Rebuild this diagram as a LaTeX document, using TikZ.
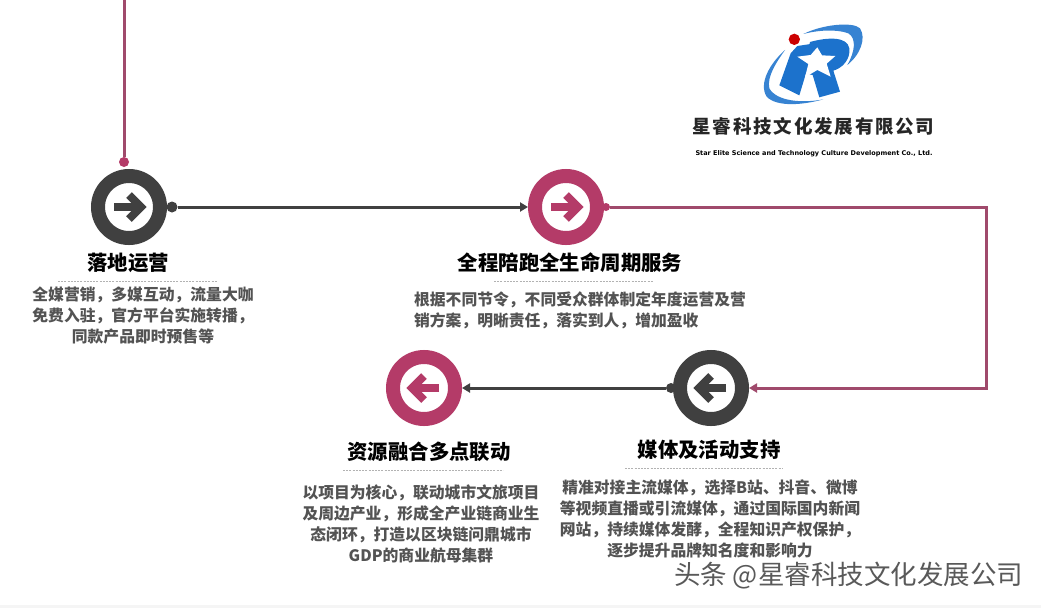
\documentclass[tikz,border=0pt]{standalone}
\usepackage{fontspec}
\setmainfont{Noto Sans CJK SC}
\newfontfamily\latinbold{DejaVu Sans}
\usetikzlibrary{arrows.meta}
\definecolor{rosec}{HTML}{B43B68}
\definecolor{rosel}{HTML}{A04A6C}
\definecolor{darkc}{HTML}{404040}
\definecolor{logob}{HTML}{1C72CC}
\tikzset{
  x=1pt,y=-1pt,
  ringnode/.style={circle,draw=#1,line width=14pt,minimum size=62pt,inner sep=0pt,outer sep=7pt,fill=white},
  glyph/.style={draw=#1,line width=8pt},
  ttl/.style={font=\fontsize{20.4}{20.4}\selectfont\bfseries,text=black,anchor=center,inner sep=0pt},
  body/.style={font=\fontsize{15.8}{21}\selectfont\bfseries,text=darkc!90,align=center,anchor=center,inner sep=0pt},
  rule/.style={draw=gray!60,line width=0.7pt,dash pattern=on 2pt off 1.2pt},
  dotc/.style={circle,fill=#1,inner sep=0pt,minimum size=10pt},
  link/.style={draw=#1,line width=3pt},
}
\begin{document}
\begin{tikzpicture}
\useasboundingbox (0,0) rectangle (1041,608);
\fill[white] (0,0) rectangle (1041,608);
\fill[black!4] (0,605) rectangle (1041,608);
% nodes
\node[ringnode=darkc] (a) at (129,207) {};
\node[ringnode=rosec] (b) at (566,207) {};
\node[ringnode=darkc] (c) at (711,388) {};
\node[ringnode=rosec] (d) at (424,388) {};
\coordinate (top) at (124,0);
\node[dotc=rosec,minimum size=10pt] (topdot) at (124,162) {};
\node[dotc=darkc,minimum size=11pt] (adot) at (172,207) {};
\node[dotc=rosec,minimum size=8pt] (bdot) at (606,207) {};
\node[dotc=darkc,minimum size=10pt] (cdot) at (671,388) {};
\coordinate (corner1) at (986,207);
\coordinate (corner2) at (986,388);
% connectors
\draw[link=rosel] (top) -- (topdot);
\draw[link=darkc,-{Triangle[length=8pt,width=9pt]}] (adot) -- (b);
\draw[link=rosel,-{Triangle[length=8pt,width=9pt]}] (bdot) -- (corner1) -- (corner2) -- (c);
\draw[link=darkc,-{Triangle[length=8pt,width=9pt]}] (cdot) -- (d);
% glyphs
\draw[glyph=darkc] ([xshift=-15pt]a.center) -- ([xshift=12pt]a.center);
\draw[glyph=darkc] ([shift={(0,-12)}]a.center) -- ([shift={(12,0)}]a.center) -- ([shift={(0,12)}]a.center);
\draw[glyph=rosec] ([xshift=-15pt]b.center) -- ([xshift=12pt]b.center);
\draw[glyph=rosec] ([shift={(0,-12)}]b.center) -- ([shift={(12,0)}]b.center) -- ([shift={(0,12)}]b.center);
\draw[glyph=darkc] ([xshift=15pt]c.center) -- ([xshift=-12pt]c.center);
\draw[glyph=darkc] ([shift={(0,-12)}]c.center) -- ([shift={(-12,0)}]c.center) -- ([shift={(0,12)}]c.center);
\draw[glyph=rosec] ([xshift=15pt]d.center) -- ([xshift=-12pt]d.center);
\draw[glyph=rosec] ([shift={(0,-12)}]d.center) -- ([shift={(-12,0)}]d.center) -- ([shift={(0,12)}]d.center);
% titles
\node[ttl] (ta) at (128,263) {落地运营};
\node[ttl] (tb) at (570,263) {全程陪跑全生命周期服务};
\node[ttl] (tc) at (709,450) {媒体及活动支持};
\node[ttl] (td) at (429,452) {资源融合多点联动};
% rules
\draw[rule] (58,281) -- (217,281);
\draw[rule] (494,281) -- (653,281);
\draw[rule] (625,468) -- (783,468);
\draw[rule] (343,470) -- (503,470);
% bodies
\node[body] (ba) at (143,316) {全媒营销，多媒互动，流量大咖\\免费入驻，官方平台实施转播，\\同款产品即时预售等};
\node[body,align=left] (bb) at (580,310) {根据不同节令，不同受众群体制定年度运营及营\\销方案，明晰责任，落实到人，增加盈收};
\node[body] (bc) at (710,519) {精准对接主流媒体，选择B站、抖音、微博\\等视频直播或引流媒体，通过国际国内新闻\\网站，持续媒体发酵，全程知识产权保护，\\逐步提升品牌知名度和影响力};
\node[body] (bd) at (421,524) {以项目为核心，联动城市文旅项目\\及周边产业，形成全产业链商业生\\态闭环，打造以区块链问鼎城市\\GDP的商业航母集群};
% logo
\begin{scope}[shift={(760,20)},x=0.3333pt,y=-0.3333pt]
  \fill[logob!88] (130,42) .. controls (190,12) and (280,5) .. (300,25) .. controls (320,55) and (300,105) .. (262,135) .. controls (285,95) and (290,55) .. (265,40) .. controls (230,27) and (175,30) .. (130,42) -- cycle;
  \fill[logob!88] (75,90) .. controls (30,130) and (-5,190) .. (20,230) .. controls (50,262) and (130,255) .. (190,238) .. controls (130,250) and (50,245) .. (28,205) .. controls (20,170) and (50,125) .. (75,90) -- cycle;
  \fill[logob] (112,78) -- (165,70) -- (118,226) -- (58,196) -- (92,100) -- cycle;
  \fill[logob] (150,66) .. controls (200,52) and (262,48) .. (268,85) .. controls (272,120) and (245,145) .. (220,152) -- (240,215) -- (178,232) -- (158,165) -- (130,160) -- cycle;
  \fill[white] (172,82) -- (186,106) -- (226,108) -- (200,131) -- (212,170) -- (172,150) -- (135,172) -- (145,132) -- (112,110) -- (152,105) -- cycle;
  \fill[white] (103,58) circle (21);
  \fill[red!80!black] (103,58) circle (17);
\end{scope}
\node[font=\fontsize{18.5}{18.5}\selectfont\bfseries,text=black!85,inner sep=0pt] (co) at (813.5,126) {星\hspace{1.8pt}睿\hspace{1.8pt}科\hspace{1.8pt}技\hspace{1.8pt}文\hspace{1.8pt}化\hspace{1.8pt}发\hspace{1.8pt}展\hspace{1.8pt}有\hspace{1.8pt}限\hspace{1.8pt}公\hspace{1.8pt}司};
\node[font=\latinbold\fontsize{6.5}{7}\selectfont\bfseries,text=black,inner sep=0pt] (en) at (814,154) {Star Elite Science and Technology Culture Development Co., Ltd.};
% watermark
\node[font=\fontsize{26.5}{26.5}\selectfont,text=black!65,inner sep=0pt] (wm) at (848.5,576) {头条 @星睿科技文化发展公司};
\end{tikzpicture}
\end{document}
